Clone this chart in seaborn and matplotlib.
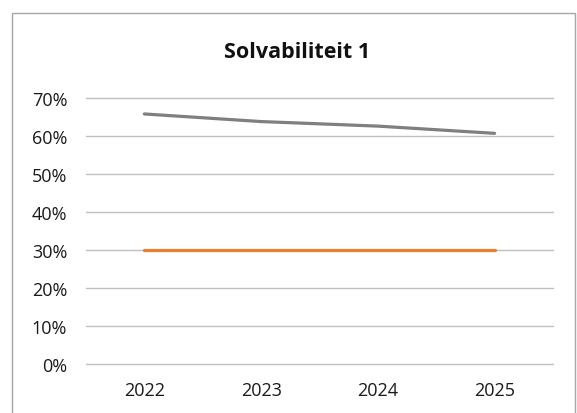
import matplotlib
matplotlib.use("Agg")
import matplotlib.pyplot as plt
import matplotlib.patches as mpatches
import pandas as pd
import seaborn as sns

years = ["2022", "2023", "2024", "2025"]
solvabiliteit = [0.658, 0.638, 0.626, 0.607]
norm = [0.30, 0.30, 0.30, 0.30]
series_names = ["Solvabiliteit", "Norm"]
yticks = [0.0, 0.1, 0.2, 0.3, 0.4, 0.5, 0.6, 0.7]

df = pd.DataFrame({
    "Jaar": years * 2,
    "Waarde": solvabiliteit + norm,
    "Reeks": [series_names[0]] * 4 + [series_names[1]] * 4,
})

sns.set_style("white")
plt.rcParams["font.family"] = ["Open Sans", "DejaVu Sans"]

fig = plt.figure(figsize=(5.77, 4.14), dpi=100)
ax = fig.add_axes([86 / 577, 1 - 365 / 414, 467 / 577, 266 / 414])

sns.lineplot(data=df, x="Jaar", y="Waarde", hue="Reeks",
             palette={"Solvabiliteit": "#7f7f7f", "Norm": "#ed7d31"},
             linewidth=2.3, legend=False, ax=ax, sort=False)
for line in ax.lines:
    line.set_solid_capstyle("round")

ax.set_xlim(-0.5, 3.5)
ax.set_ylim(0, 0.7)
ax.set_yticks(yticks)
ax.set_yticklabels([f"{int(round(t * 100))}%" for t in yticks])
ax.yaxis.grid(True, color="#bfbfbf", linewidth=1)
for gl in ax.get_ygridlines():
    gl.set_clip_on(False)
ax.set_axisbelow(True)
for s in ax.spines.values():
    s.set_visible(False)
ax.tick_params(axis="both", length=0, labelsize=13, colors="#1a1a1a")
ax.tick_params(axis="y", pad=13.5)
ax.tick_params(axis="x", pad=12)
ax.set_xlabel("")
ax.set_ylabel("")

fig.text(297 / 577, 1 - 52 / 414, "Solvabiliteit 1", ha="center", va="center",
         fontsize=15.5, fontweight="bold", color="#111111")

fig.patches.append(mpatches.Rectangle((12 / 577, -0.05), 563 / 577, 1 - 14 / 414 + 0.05,
                                      transform=fig.transFigure, fill=False,
                                      edgecolor="#a6a6a6", linewidth=1))

fig.savefig("out.png", dpi=100)
